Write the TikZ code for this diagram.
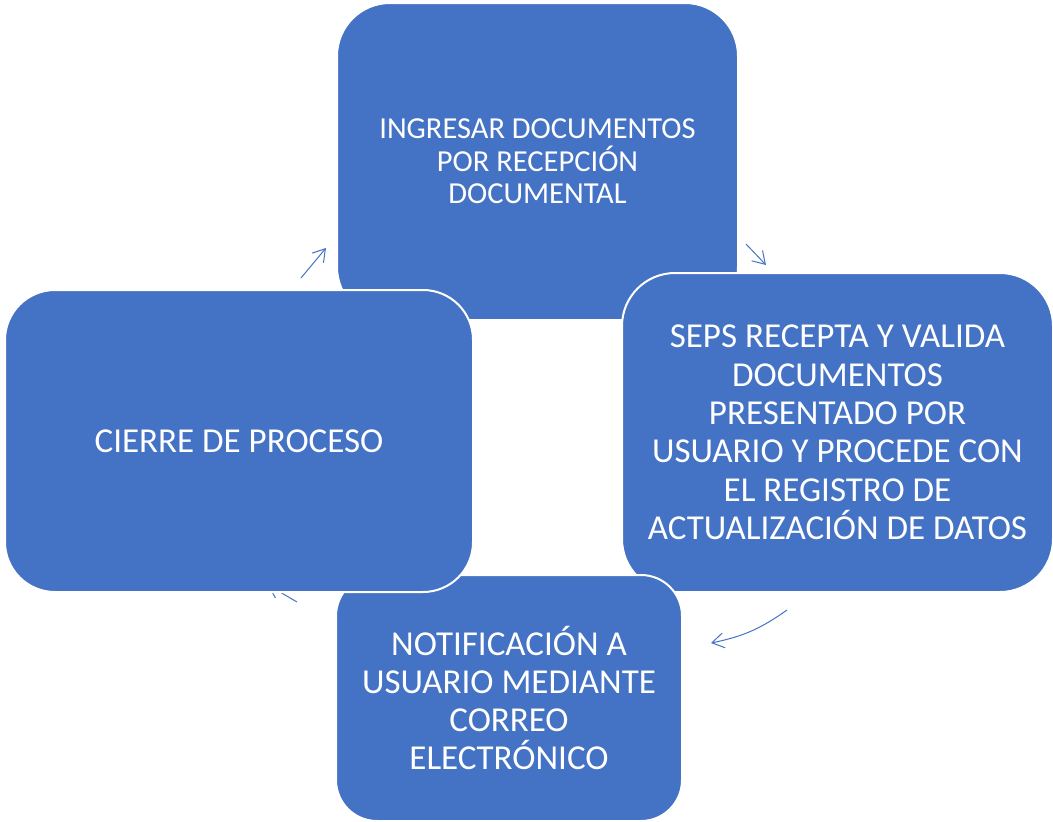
\documentclass[tikz,border=0pt]{standalone}
\usepackage{fontspec}
\setmainfont{Carlito}
\usetikzlibrary{arrows.meta}

\definecolor{boxcolor}{RGB}{68,114,196}

\begin{document}
\begin{tikzpicture}[x=1pt, y=-1pt, box/.style = {draw=white, line width=2pt, fill=boxcolor, text=white, align=center, inner sep=0pt, font=\fontsize{35}{38.3}\selectfont}, flow/.style = {draw=boxcolor, line width=1pt, -{Straight Barb[length=12pt, width=15pt]}}]
		\useasboundingbox (0,0) rectangle (1053,822);

		\coordinate (a1) at (301,278); \coordinate (b1) at (326,248);
		\coordinate (a2) at (746,244); \coordinate (b2) at (766,265);
		\coordinate (a3) at (787,610); \coordinate (b3) at (711,643);
		\coordinate (a4) at (297,602); \coordinate (b4) at (268,585);

		\node[box, rounded corners=53pt, minimum width=401pt, minimum height=317pt, font=\fontsize{30.5}{32.5}\selectfont] (Ingresar) at (537.5,161.5) {INGRESAR DOCUMENTOS\\POR RECEPCIÓN\\DOCUMENTAL};
		\node[box, rounded corners=53pt, minimum width=431pt, minimum height=319pt] (Recepta) at (837.5,432.5) {SEPS RECEPTA Y VALIDA\\DOCUMENTOS\\PRESENTADO POR\\USUARIO Y PROCEDE CON\\EL REGISTRO DE\\ACTUALIZACIÓN DE DATOS};
		\node[box, rounded corners=41pt, minimum width=346pt, minimum height=246pt] (Notificacion) at (509,698) {NOTIFICACIÓN A\\USUARIO MEDIANTE\\CORREO\\ELECTRÓNICO};
		\draw[flow] (a4) -- (b4);
		\node[box, rounded corners=50pt, minimum width=468pt, minimum height=302pt] (Cierre) at (239,441) {CIERRE DE PROCESO};

		\draw[flow] (a1) -- (b1);
		\draw[flow] (a2) -- (b2);
		\draw[flow] (a3) to[bend left=12] (b3);
	\end{tikzpicture}
\end{document}
